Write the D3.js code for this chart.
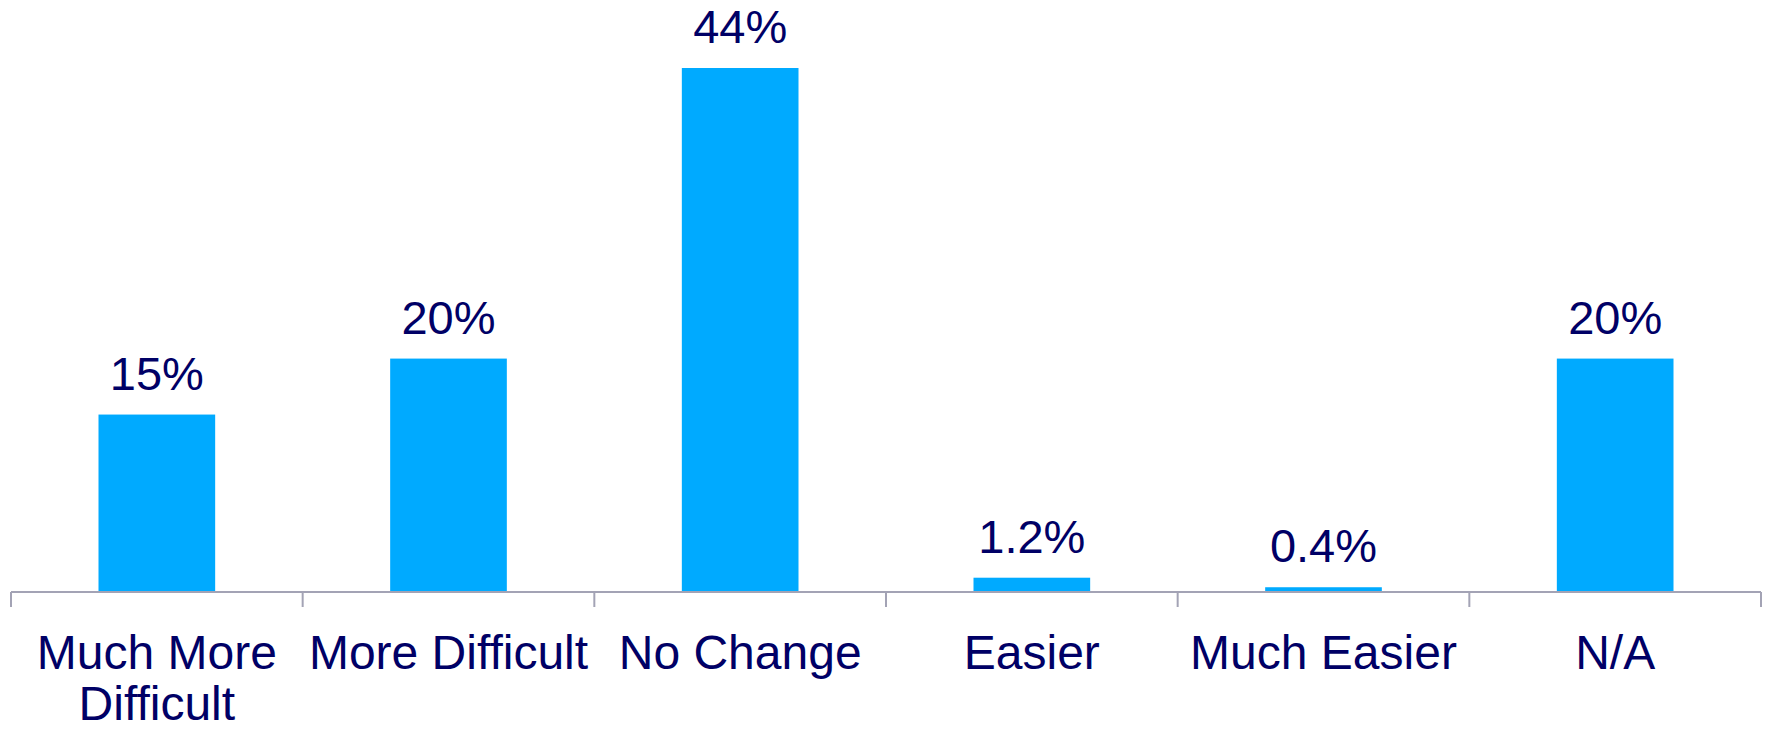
<!DOCTYPE html>
<html>
<head>
<meta charset="utf-8">
<script src="https://cdn.jsdelivr.net/npm/d3@7"></script>
<style>
  html, body { margin: 0; padding: 0; background: #fff; }
  svg { display: block; }
</style>
</head>
<body>
<svg id="chart"></svg>
<script>
const categories = ['Much More Difficult', 'More Difficult', 'No Change', 'Easier', 'Much Easier', 'N/A'];
const categoryLines = [['Much More', 'Difficult'], ['More Difficult'], ['No Change'], ['Easier'], ['Much Easier'], ['N/A']];
const values = [14.9, 19.6, 44, 1.2, 0.4, 19.6];
const valueLabels = ['15%', '20%', '44%', '1.2%', '0.4%', '20%'];

const width = 1767;
const height = 730;
const margin = { top: 68, right: 6, bottom: 138, left: 11 };
const font = 'Liberation Sans, Arial, sans-serif';
const textColor = '#000066';

const svg = d3.select('#chart').attr('width', width).attr('height', height);

const x = d3.scaleBand()
  .domain(categories)
  .range([margin.left, width - margin.right])
  .paddingInner(0.6)
  .paddingOuter(0.3);

const y = d3.scaleLinear()
  .domain([0, d3.max(values)])
  .range([height - margin.bottom, margin.top]);

const data = categories.map((c, i) => ({ cat: c, value: values[i], label: valueLabels[i], lines: categoryLines[i] }));

// bars
svg.append('g')
  .attr('fill', '#00AAFF')
  .selectAll('rect')
  .data(data)
  .join('rect')
  .attr('x', d => x(d.cat))
  .attr('y', d => y(d.value))
  .attr('width', x.bandwidth())
  .attr('height', d => y(0) - y(d.value));

// axis line + ticks between categories
const step = x.step();
const axisY = y(0);
const axis = svg.append('g').attr('stroke', '#A3A3B5').attr('stroke-width', 2);
axis.append('line')
  .attr('x1', margin.left).attr('x2', width - margin.right)
  .attr('y1', axisY).attr('y2', axisY);
axis.selectAll('line.tick')
  .data(d3.range(categories.length + 1))
  .join('line')
  .attr('class', 'tick')
  .attr('x1', i => margin.left + i * step)
  .attr('x2', i => margin.left + i * step)
  .attr('y1', axisY)
  .attr('y2', axisY + 15);

// value labels
svg.selectAll('text.value')
  .data(data)
  .join('text')
  .attr('class', 'value')
  .attr('x', d => x(d.cat) + x.bandwidth() / 2)
  .attr('y', d => y(d.value) - 25)
  .attr('text-anchor', 'middle')
  .attr('font-family', font)
  .attr('font-size', 47)
  .attr('fill', textColor)
  .text(d => d.label);

// category labels
const catText = svg.selectAll('text.cat')
  .data(data)
  .join('text')
  .attr('class', 'cat')
  .attr('text-anchor', 'middle')
  .attr('font-family', font)
  .attr('font-size', 48)
  .attr('fill', textColor);

catText.selectAll('tspan')
  .data(d => d.lines.map(l => ({ l, cx: x(d.cat) + x.bandwidth() / 2 })))
  .join('tspan')
  .attr('x', t => t.cx)
  .attr('y', (t, i) => axisY + 77 + i * 51)
  .text(t => t.l);
</script>
</body>
</html>
